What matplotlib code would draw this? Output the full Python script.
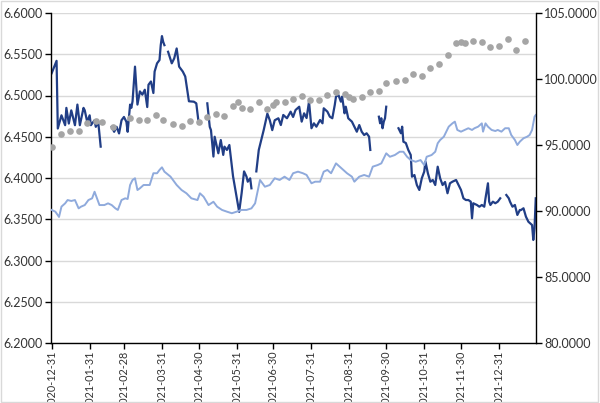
import numpy as np
import pandas as pd
import matplotlib
matplotlib.use('Agg')
import matplotlib.pyplot as plt
from matplotlib.ticker import FormatStrFormatter
from matplotlib.patches import Rectangle

plt.rcParams['font.family'] = ['Lato', 'DejaVu Sans']
nan = np.nan

# exchange rate, left axis (nan = holiday gap)
fx_dates = [
    '2020-12-31',
    '2021-01-04', '2021-01-05', '2021-01-08', '2021-01-11', '2021-01-12', '2021-01-14', '2021-01-16',
    '2021-01-19', '2021-01-21', '2021-01-23', '2021-01-26', '2021-01-27', '2021-01-29', '2021-01-31',
    '2021-02-01', '2021-02-04', '2021-02-05', '2021-02-07', '2021-02-09', '2021-02-13', '2021-02-18',
    '2021-02-20', '2021-02-22', '2021-02-24', '2021-02-26', '2021-02-28',
    '2021-03-02', '2021-03-03', '2021-03-05', '2021-03-06', '2021-03-07', '2021-03-09', '2021-03-11',
    '2021-03-13', '2021-03-15', '2021-03-17', '2021-03-19', '2021-03-20', '2021-03-22', '2021-03-24',
    '2021-03-25', '2021-03-27', '2021-03-29', '2021-03-30', '2021-03-31',
    '2021-04-01', '2021-04-02', '2021-04-04', '2021-04-05', '2021-04-08', '2021-04-10', '2021-04-12',
    '2021-04-14', '2021-04-17', '2021-04-19', '2021-04-22', '2021-04-26', '2021-04-28', '2021-04-30',
    '2021-05-03', '2021-05-07', '2021-05-09', '2021-05-10', '2021-05-12', '2021-05-13', '2021-05-16',
    '2021-05-18', '2021-05-20', '2021-05-21', '2021-05-23', '2021-05-25', '2021-05-28',
    '2021-06-02', '2021-06-04', '2021-06-06', '2021-06-08', '2021-06-09', '2021-06-11', '2021-06-12',
    '2021-06-14', '2021-06-16', '2021-06-18', '2021-06-22', '2021-06-25', '2021-06-27', '2021-06-29',
    '2021-07-01', '2021-07-04', '2021-07-06', '2021-07-08', '2021-07-11', '2021-07-14', '2021-07-16',
    '2021-07-18', '2021-07-21', '2021-07-23', '2021-07-25', '2021-07-27', '2021-07-29', '2021-07-31',
    '2021-08-02', '2021-08-04', '2021-08-07', '2021-08-09', '2021-08-10', '2021-08-13', '2021-08-15',
    '2021-08-17', '2021-08-19', '2021-08-20', '2021-08-22', '2021-08-24', '2021-08-25', '2021-08-27',
    '2021-08-28', '2021-08-30',
    '2021-09-02', '2021-09-04', '2021-09-06', '2021-09-08', '2021-09-10', '2021-09-12', '2021-09-14',
    '2021-09-16', '2021-09-17', '2021-09-20', '2021-09-24', '2021-09-25', '2021-09-26', '2021-09-27',
    '2021-09-28', '2021-09-29', '2021-09-30',
    '2021-10-04', '2021-10-10', '2021-10-12', '2021-10-13', '2021-10-14', '2021-10-16', '2021-10-18',
    '2021-10-20', '2021-10-21', '2021-10-23', '2021-10-25', '2021-10-27', '2021-10-29', '2021-10-31',
    '2021-11-01', '2021-11-03', '2021-11-05', '2021-11-07', '2021-11-09', '2021-11-11', '2021-11-13',
    '2021-11-15', '2021-11-17', '2021-11-19', '2021-11-21', '2021-11-23', '2021-11-26', '2021-11-28',
    '2021-11-30',
    '2021-12-02', '2021-12-04', '2021-12-06', '2021-12-08', '2021-12-09', '2021-12-10', '2021-12-13',
    '2021-12-15', '2021-12-17', '2021-12-19', '2021-12-20', '2021-12-22', '2021-12-23', '2021-12-24',
    '2021-12-26', '2021-12-28', '2021-12-30',
    '2022-01-01', '2022-01-03', '2022-01-06', '2022-01-08', '2022-01-09', '2022-01-11', '2022-01-13',
    '2022-01-15', '2022-01-17', '2022-01-18', '2022-01-20', '2022-01-22', '2022-01-24', '2022-01-27',
    '2022-01-28', '2022-01-29', '2022-01-30',
]
fx_vals = [
    6.527,
    6.542, 6.460, 6.476, 6.464, 6.485, 6.466, 6.482,
    6.464, 6.489, 6.464, 6.485, 6.482, 6.468, 6.476,
    6.464, 6.470, 6.462, 6.468, 6.438, nan, 6.462,
    6.456, 6.462, 6.454, 6.470, 6.474,
    6.468, 6.456, 6.489, 6.485, 6.493, 6.535, 6.489,
    6.505, 6.501, 6.507, 6.486, 6.513, 6.517, 6.503,
    6.529, 6.539, 6.543, 6.561, 6.572,
    6.565, 6.561, nan, 6.553, 6.539, 6.545, 6.557,
    6.535, 6.529, 6.523, 6.493, 6.4925, 6.4905, 6.466,
    nan, 6.4905, 6.462, 6.458, 6.426, 6.450, 6.430,
    6.446, 6.428, 6.438, 6.434, 6.440, 6.402,
    6.359, 6.3815, 6.408, 6.4016, 6.3955, 6.3996, 6.3875,
    nan, 6.408, 6.434, 6.458, 6.478, 6.470, 6.458,
    6.470, 6.4724, 6.4642, 6.4764, 6.4724, 6.4804, 6.474,
    6.4824, 6.4864, 6.4683, 6.4784, 6.4727, 6.4925, 6.4603,
    6.4663, 6.4622, 6.4703, 6.4663, 6.4845, 6.4804, 6.4743,
    6.4724, 6.4885, 6.4986, 6.5006, 6.4925, 6.4986, 6.4784,
    6.4864, 6.4724,
    6.4683, 6.4622, 6.4561, 6.4642, 6.4561, 6.4521, 6.4542,
    6.4501, 6.434, nan, 6.4743, 6.4663, 6.4724, 6.4603,
    6.4683, 6.4724, 6.4864,
    nan, 6.4603, 6.4542, 6.4622, 6.4440, 6.4424, 6.4340,
    6.4279, 6.4016, 6.4036, 6.3915, 6.3855, 6.3996, 6.4077,
    6.4198, 6.4057, 6.3955, 6.3976, 6.3915, 6.4137, 6.3996,
    6.3915, 6.3952, 6.3815, 6.3936, 6.3955, 6.3976, 6.3915,
    6.3855,
    6.3754, 6.3733, 6.3733, 6.3713, 6.3512, 6.3694, 6.3673,
    6.3652, 6.3673, 6.3652, 6.3754, 6.3936, 6.3713, 6.3673,
    6.3713, 6.3694, 6.3713,
    6.3754, nan, 6.3794, 6.3754, 6.3713, 6.3652, 6.3673,
    6.3552, 6.3612, 6.3612, 6.3633, 6.3531, 6.3470, 6.3430,
    6.3249, 6.3390, 6.3754,
]

# dollar index, right axis
dxy_dates = [
    '2020-12-31', '2021-01-03', '2021-01-06', '2021-01-08', '2021-01-11', '2021-01-13', '2021-01-16',
    '2021-01-19', '2021-01-22', '2021-01-24', '2021-01-27', '2021-01-30',
    '2021-02-02', '2021-02-04', '2021-02-06', '2021-02-08', '2021-02-12', '2021-02-15', '2021-02-18',
    '2021-02-21', '2021-02-23', '2021-02-26',
    '2021-03-01', '2021-03-03', '2021-03-05', '2021-03-07', '2021-03-09', '2021-03-11', '2021-03-13',
    '2021-03-16', '2021-03-18', '2021-03-21', '2021-03-24', '2021-03-27', '2021-03-29', '2021-03-31',
    '2021-04-02', '2021-04-07', '2021-04-09', '2021-04-12', '2021-04-16', '2021-04-20', '2021-04-24',
    '2021-04-29',
    '2021-05-01', '2021-05-04', '2021-05-08', '2021-05-12', '2021-05-15', '2021-05-19', '2021-05-23',
    '2021-05-27', '2021-05-31',
    '2021-06-04', '2021-06-08', '2021-06-12', '2021-06-15', '2021-06-19', '2021-06-23', '2021-06-27',
    '2021-07-01', '2021-07-05', '2021-07-09', '2021-07-13', '2021-07-16', '2021-07-20', '2021-07-24',
    '2021-07-27', '2021-07-31',
    '2021-08-03', '2021-08-07', '2021-08-10', '2021-08-13', '2021-08-16', '2021-08-20', '2021-08-23',
    '2021-08-26', '2021-08-29',
    '2021-09-02', '2021-09-04', '2021-09-08', '2021-09-12', '2021-09-16', '2021-09-19', '2021-09-23',
    '2021-09-26', '2021-09-30',
    '2021-10-03', '2021-10-07', '2021-10-11', '2021-10-14', '2021-10-17', '2021-10-20', '2021-10-24',
    '2021-10-28', '2021-10-31',
    '2021-11-02', '2021-11-06', '2021-11-09', '2021-11-11', '2021-11-13', '2021-11-16', '2021-11-18',
    '2021-11-20', '2021-11-23', '2021-11-25', '2021-11-27', '2021-11-30',
    '2021-12-03', '2021-12-06', '2021-12-09', '2021-12-11', '2021-12-14', '2021-12-17', '2021-12-18',
    '2021-12-20', '2021-12-22', '2021-12-25', '2021-12-28', '2021-12-30',
    '2022-01-02', '2022-01-05', '2022-01-08', '2022-01-10', '2022-01-13', '2022-01-15', '2022-01-17',
    '2022-01-20', '2022-01-23', '2022-01-25', '2022-01-27', '2022-01-29', '2022-01-30',
]
dxy_vals = [
    90.08, 89.95, 89.55, 90.33, 90.58, 90.83, 90.76,
    90.83, 90.20, 90.33, 90.45, 90.83,
    90.96, 91.46, 90.96, 90.45, 90.45, 90.58, 90.45,
    90.20, 90.08, 90.83,
    90.96, 90.91, 91.97, 92.35, 92.48, 91.59, 91.72,
    91.97, 91.97, 91.97, 92.86, 92.86, 93.11, 93.31,
    92.98, 92.60, 92.35, 91.97, 91.59, 91.34, 90.96,
    90.83,
    91.34, 91.08, 90.45, 90.70, 90.33, 90.08, 89.95,
    89.83, 89.95,
    90.08, 90.08, 90.20, 90.58, 92.35, 91.84, 91.97,
    92.48, 92.35, 92.60, 92.35, 92.86, 92.98, 92.86,
    92.73, 92.10,
    92.22, 92.22, 92.98, 93.11, 92.86, 93.61, 93.36,
    93.11, 92.86,
    92.60, 92.22, 92.60, 92.73, 92.60, 93.36, 93.48,
    93.61, 94.37,
    94.11, 94.24, 94.49, 94.49, 94.11, 93.86, 93.73,
    93.86, 93.48,
    94.11, 94.24, 94.49, 95.13, 95.38, 95.63, 96.01,
    96.39, 96.64, 96.77, 96.14, 96.01,
    96.14, 96.27, 96.14, 96.27, 96.39, 96.64, 96.01,
    96.64, 96.39, 96.14, 96.06, 96.14,
    96.01, 96.27, 96.27, 95.76, 95.38, 95.00, 95.25,
    95.51, 95.63, 95.76, 96.14, 97.14, 97.27,
]

# weekly index, right axis
idx_dates = [
    '2020-12-31', '2021-01-08', '2021-01-15', '2021-01-22', '2021-01-29', '2021-02-05', '2021-02-10',
    '2021-02-19', '2021-03-05', '2021-03-12', '2021-03-19', '2021-03-26', '2021-04-01', '2021-04-09',
    '2021-04-16', '2021-04-23', '2021-04-30', '2021-05-07', '2021-05-14', '2021-05-21', '2021-05-28',
    '2021-06-01', '2021-06-04', '2021-06-11', '2021-06-18', '2021-06-25', '2021-06-30', '2021-07-02',
    '2021-07-09', '2021-07-16', '2021-07-23', '2021-07-30', '2021-08-06', '2021-08-13', '2021-08-20',
    '2021-08-27', '2021-08-31', '2021-09-03', '2021-09-10', '2021-09-17', '2021-09-24', '2021-09-30',
    '2021-10-08', '2021-10-15', '2021-10-22', '2021-10-29', '2021-11-05', '2021-11-12', '2021-11-19',
    '2021-11-26', '2021-11-30', '2021-12-03', '2021-12-10', '2021-12-17', '2021-12-24', '2021-12-31',
    '2022-01-07', '2022-01-14', '2022-01-21',
]
idx_vals = [
    94.87, 95.85, 96.06, 96.04, 96.63, 96.82, 96.73,
    96.39, 97.08, 96.92, 96.87, 97.25, 96.89, 96.61,
    96.44, 96.83, 96.76, 97.14, 97.38, 97.22, 97.99,
    98.28, 97.84, 97.70, 98.22, 97.70, 98.03, 98.28,
    98.28, 98.46, 98.71, 98.39, 98.43, 98.79, 99.04,
    98.84, 98.66, 98.46, 98.66, 99.04, 99.11, 99.67,
    99.86, 99.95, 100.36, 100.23, 100.87, 101.12, 101.85,
    102.75, 102.82, 102.70, 102.88, 102.83, 102.45, 102.52,
    103.03, 102.17, 102.86,
]

tick_labels = ['2020-12-31', '2021-01-31', '2021-02-28', '2021-03-31', '2021-04-30', '2021-05-31',
               '2021-06-30', '2021-07-31', '2021-08-31', '2021-09-30', '2021-10-31', '2021-11-30',
               '2021-12-31']

fig = plt.figure(figsize=(6, 4.03), dpi=100)
ax = fig.add_axes([51 / 600, 1 - 343 / 403, 485 / 600, 330 / 403])
ax2 = ax.twinx()

ax.plot(pd.to_datetime(fx_dates), fx_vals, color='#213E86', lw=1.6)
ax2.plot(pd.to_datetime(dxy_dates), dxy_vals, color='#8FAADC', lw=1.4)
ax2.plot(pd.to_datetime(idx_dates), idx_vals, 'o', color='#A5A5A5', ms=4.8, mec='none')

ax.set_xlim(pd.Timestamp('2020-12-31') - pd.Timedelta(hours=13),
            pd.Timestamp('2022-01-30') + pd.Timedelta(hours=5))
ax.set_ylim(6.2, 6.6)
ax.set_yticks(np.arange(6.2, 6.6001, 0.05))
ax.yaxis.set_major_formatter(FormatStrFormatter('%.4f'))
ax2.set_ylim(80, 105)
ax2.set_yticks(np.arange(80, 105.1, 5))
ax2.yaxis.set_major_formatter(FormatStrFormatter('%.4f'))

ax.set_xticks(pd.to_datetime(tick_labels))
ax.set_xticklabels(tick_labels, rotation=90, va='top', ha='center')

ax.grid(axis='y', color='#D9D9D9', lw=1)
ax.set_axisbelow(True)

for a in (ax, ax2):
    a.spines['top'].set_visible(False)
    for s in a.spines.values():
        s.set_color('black')
        s.set_linewidth(1)
    a.tick_params(direction='out', length=4, width=1, colors='black',
                  labelsize=9, labelcolor='#333333', pad=2)
ax.tick_params(axis='x', labelsize=7.8, pad=1.5)
ax2.spines['left'].set_visible(False)
ax2.spines['bottom'].set_visible(False)
ax.spines['right'].set_visible(False)

fig.patches.append(Rectangle((0.002, 0.002), 0.995, 0.995, transform=fig.transFigure,
                             fill=False, ec='#D9D9D9', lw=1))

fig.savefig('out.png', dpi=100)
